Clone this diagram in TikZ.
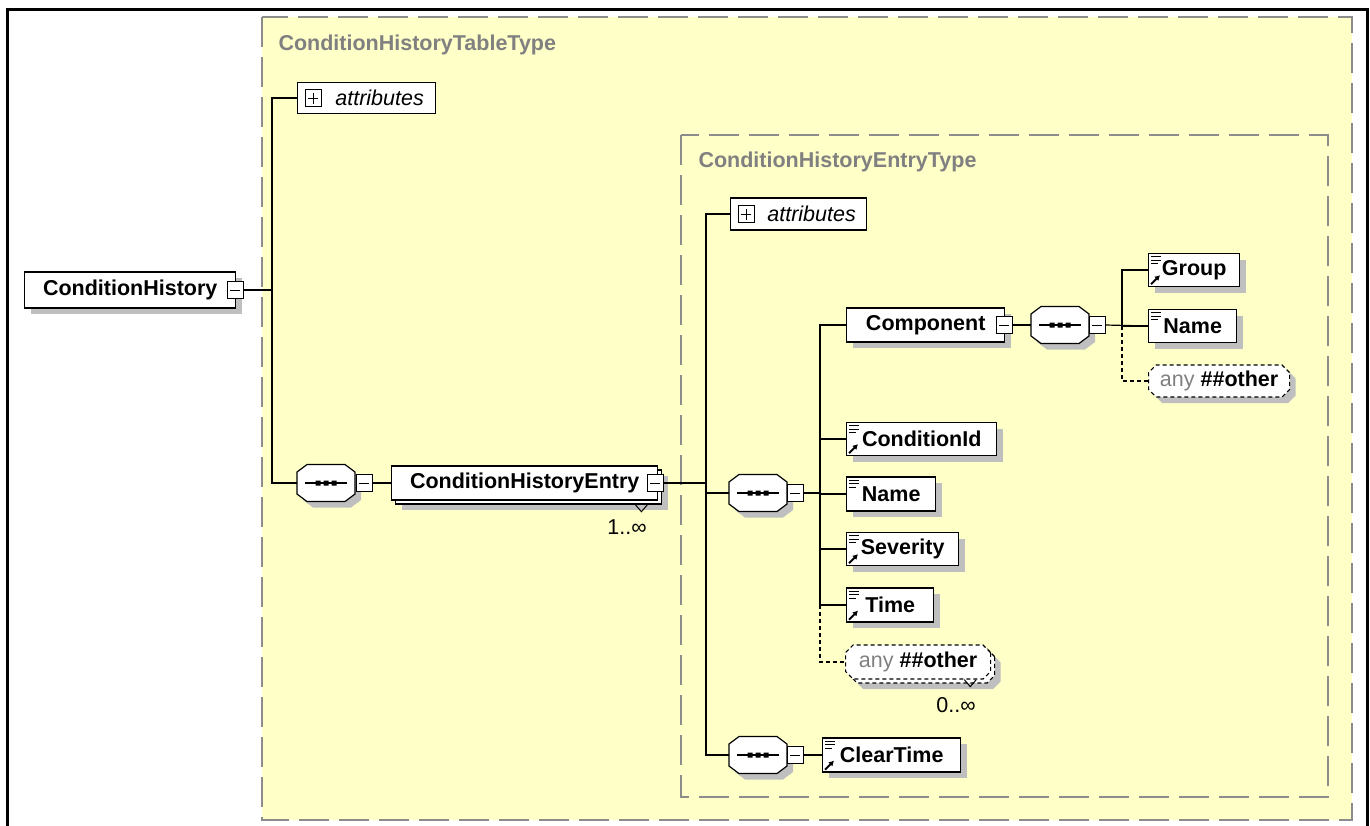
\documentclass[tikz,border=0pt]{standalone}
\usepackage{fontspec}
\setmainfont{Liberation Sans}
\usepackage{tikz}
\usetikzlibrary{shapes.misc,shadows,arrows.meta}

\definecolor{xsdyellow}{RGB}{255,255,200}
\definecolor{xsdgray}{RGB}{128,128,128}
\newcommand{\xsdfont}{\fontsize{21.5}{25}\selectfont}

% sequence compositor, drawn round an empty node
\newcommand{\seqshape}[1]{%
	\fill[black!25, shift={(#1.center)}, shift={(6,6)}] (-19,-18.5) -- (19,-18.5) -- (29,-11) -- (29,11) -- (19,18.5) -- (-19,18.5) -- (-29,11) -- (-29,-11) -- cycle;
	\draw[line width=1.2pt, fill=white, shift={(#1.center)}] (-19,-18.5) -- (19,-18.5) -- (29,-11) -- (29,11) -- (19,18.5) -- (-19,18.5) -- (-29,11) -- (-29,-11) -- cycle;
	\draw[line width=1.2pt, shift={(#1.center)}] (-21,0) -- (21,0);
	\fill[black, shift={(#1.center)}] (-10.5,-2.5) rectangle (-5.5,2.5) (-2.5,-2.5) rectangle (2.5,2.5) (5.5,-2.5) rectangle (10.5,2.5);}

\tikzset{
  elembox/.style={draw, fill=white, line width=1.4pt, inner sep=0pt, anchor=west, font=\xsdfont\bfseries},
  elem/.style={elembox, drop shadow={shadow xshift=6pt, shadow yshift=-6pt, fill=black!25, opacity=1}},
  elemmulti/.style={elembox,
    drop shadow={shadow xshift=10pt, shadow yshift=-10pt, fill=black!25, opacity=1},
    copy shadow={shadow xshift=4pt, shadow yshift=-4pt, draw, fill=white, line width=1.4pt}},
  attrbox/.style={draw, fill=white, line width=1.2pt, inner sep=0pt, anchor=west, font=\xsdfont\itshape},
  seq/.style={minimum width=58pt, minimum height=37pt, inner sep=0pt},
  anyel/.style={chamfered rectangle, chamfered rectangle xsep=4pt, draw, dash pattern=on 4pt off 3pt,
    fill=white, line width=1.2pt, inner sep=0pt, anchor=west, font=\xsdfont,
    drop shadow={shadow xshift=6pt, shadow yshift=-6pt, fill=black!25, opacity=1}},
  anymulti/.style={chamfered rectangle, chamfered rectangle xsep=4pt, draw, dash pattern=on 4pt off 3pt,
    fill=white, line width=1.2pt, inner sep=0pt, anchor=west, font=\xsdfont,
    drop shadow={shadow xshift=10pt, shadow yshift=-10pt, fill=black!25, opacity=1},
    copy shadow={shadow xshift=4pt, shadow yshift=-4pt, draw, fill=white, line width=1.2pt, dash pattern=on 4pt off 3pt}},
  minbox/.style={draw, fill=white, line width=1pt, minimum width=16pt, minimum height=17pt, inner sep=0pt,
    path picture={\draw[line width=1pt] ([xshift=3pt]path picture bounding box.west) -- ([xshift=-3pt]path picture bounding box.east);}},
  plusbox/.style={draw, fill=white, line width=1pt, minimum width=16pt, minimum height=17pt, inner sep=0pt,
    path picture={\draw[line width=1pt] ([xshift=3pt]path picture bounding box.west) -- ([xshift=-3pt]path picture bounding box.east)
      ([yshift=-3pt]path picture bounding box.north) -- ([yshift=3pt]path picture bounding box.south);}},
  link/.style={line width=1.2pt},
  optlink/.style={line width=1.2pt, dash pattern=on 4pt off 3pt},
  dashbox/.style={draw=black!45, line width=2pt, dash pattern=on 30pt off 10pt},
  title/.style={anchor=west, text=xsdgray, font=\xsdfont\bfseries},
  mult/.style={font=\xsdfont}
}

\begin{document}
\begin{tikzpicture}[x=1pt,y=-1pt]
		\useasboundingbox (0,0) rectangle (1370,825);
		\draw[line width=3pt] (7,9) rectangle (1367,850);
		\draw[dashbox, fill=xsdyellow] (262,17) rectangle (1352,820);
		\draw[dashbox] (681,135) rectangle (1328,797);
		\node[title] (ttable) at (275,45) {ConditionHistoryTableType};
		\node[title] (tentry) at (695,162) {ConditionHistoryEntryType};

		% root element
		\node[elem, minimum width=211pt, minimum height=36pt] (hist) at (24,290) {ConditionHistory};
		\node[minbox] (mhist) at (235,290) {};
		\coordinate (J1) at (272,290);

		\node[attrbox, minimum width=138pt, minimum height=31pt] (attr1) at (297,98) {\hspace*{26pt}attributes};
		\node[plusbox] (pattr1) at (313,98) {};
		\node[seq] (seq1) at (326,483) {};
		\seqshape{seq1}
		\node[minbox] (mseq1) at (364,483) {};
		\node[elemmulti, minimum width=266pt, minimum height=34pt] (entry) at (391,483) {ConditionHistoryEntry};
		\node[minbox] (mentry) at (655,483) {};
		\node[mult] (nentry) at (627,527) {1..∞};
		\coordinate (J2) at (706,483);

		% entry type
		\node[attrbox, minimum width=136pt, minimum height=32pt] (attr2) at (730,214) {\hspace*{26pt}attributes};
		\node[plusbox] (pattr2) at (746,214) {};
		\node[seq] (seq2) at (758,493) {};
		\seqshape{seq2}
		\node[minbox] (mseq2) at (795,493) {};
		\coordinate (J3) at (820,493);
		\node[seq] (seq4) at (758,755) {};
		\seqshape{seq4}
		\node[minbox] (mseq4) at (795,755) {};
		\node[elem, minimum width=138pt, minimum height=34pt] (clear) at (822,755) {ClearTime};

		\node[elem, minimum width=158pt, minimum height=34pt] (comp) at (846,325) {Component};
		\node[minbox] (mcomp) at (1004,325) {};
		\node[seq] (seq3) at (1060,325) {};
		\seqshape{seq3}
		\node[minbox] (mseq3) at (1097,325) {};
		\node[elem, minimum width=91pt, minimum height=33pt] (group) at (1148,270) {Group};
		\node[elem, minimum width=88pt, minimum height=33pt] (cname) at (1148,326) {Name};
		\node[anyel, minimum width=141pt, minimum height=32pt] (any1) at (1148,381) {\textcolor{xsdgray}{any} \textbf{\#\#other}};

		\node[elem, minimum width=150pt, minimum height=33pt] (condid) at (846,439) {ConditionId};
		\node[elem, minimum width=89pt, minimum height=34pt] (name) at (846,494) {Name};
		\node[elem, minimum width=112pt, minimum height=33pt] (sev) at (846,549) {Severity};
		\node[elem, minimum width=87pt, minimum height=34pt] (time) at (846,605) {Time};
		\node[anymulti, minimum width=145pt, minimum height=34pt] (any2) at (845,662) {\textcolor{xsdgray}{any} \textbf{\#\#other}};
		\node[mult] (nany2) at (956,705) {0..∞};

		\draw[link] (mhist.east) -- (J1);
		\draw[link] (attr1.west) -- ++(-25,0) |- (seq1.west);
		\draw[link] (mseq1.east) -- (entry.west);
		\draw[link] (mentry.east) -- (J2);
		\draw[link] (attr2.west) -- ++(-24,0) |- (seq4.west);
		\draw[link] (seq2.west) -- (seq2.west -| J2);
		\draw[link] (mseq2.east) -- (J3);
		\draw[link] (mseq4.east) -- (clear.west);
		\draw[link] (comp.west) -- ++(-26,0) |- (time.west);
		\draw[link] (condid.west) -- (condid.west -| J3);
		\draw[link] (name.west) -- (name.west -| J3);
		\draw[link] (sev.west) -- (sev.west -| J3);
		\draw[optlink] (time.west) ++(-26,0) |- (any2.west);
		\draw[link] (mcomp.east) -- (seq3.west);
		\draw[link] (mseq3.east) -- (cname.west);
		\draw[link] (group.west) -- ++(-26,0) |- (cname.west);
		\draw[optlink] (cname.west) ++(-26,0) |- (any1.west);

		% element icons
		\foreach \n in {group,cname,condid,name,sev,time,clear}
			\draw[line width=1.2pt, shift={(\n.north west)}] (3,4) -- ++(10,0) (3,7.5) -- ++(10,0) (3,11) -- ++(7,0);
		\foreach \n in {group,condid,sev,time,clear}
			\draw[-{Latex[length=5pt,width=6pt]}, line width=2pt, shift={(\n.south west)}] (3,-3) -- ++(9,-9);
		\draw[line width=1pt, shift={(entry.south east)}] (-23,4) -- (-17,11) -- (-11,4);
		\draw[line width=1pt, shift={(any2.south east)}] (-23,4) -- (-17,11) -- (-11,4);
	\end{tikzpicture}
\end{document}
